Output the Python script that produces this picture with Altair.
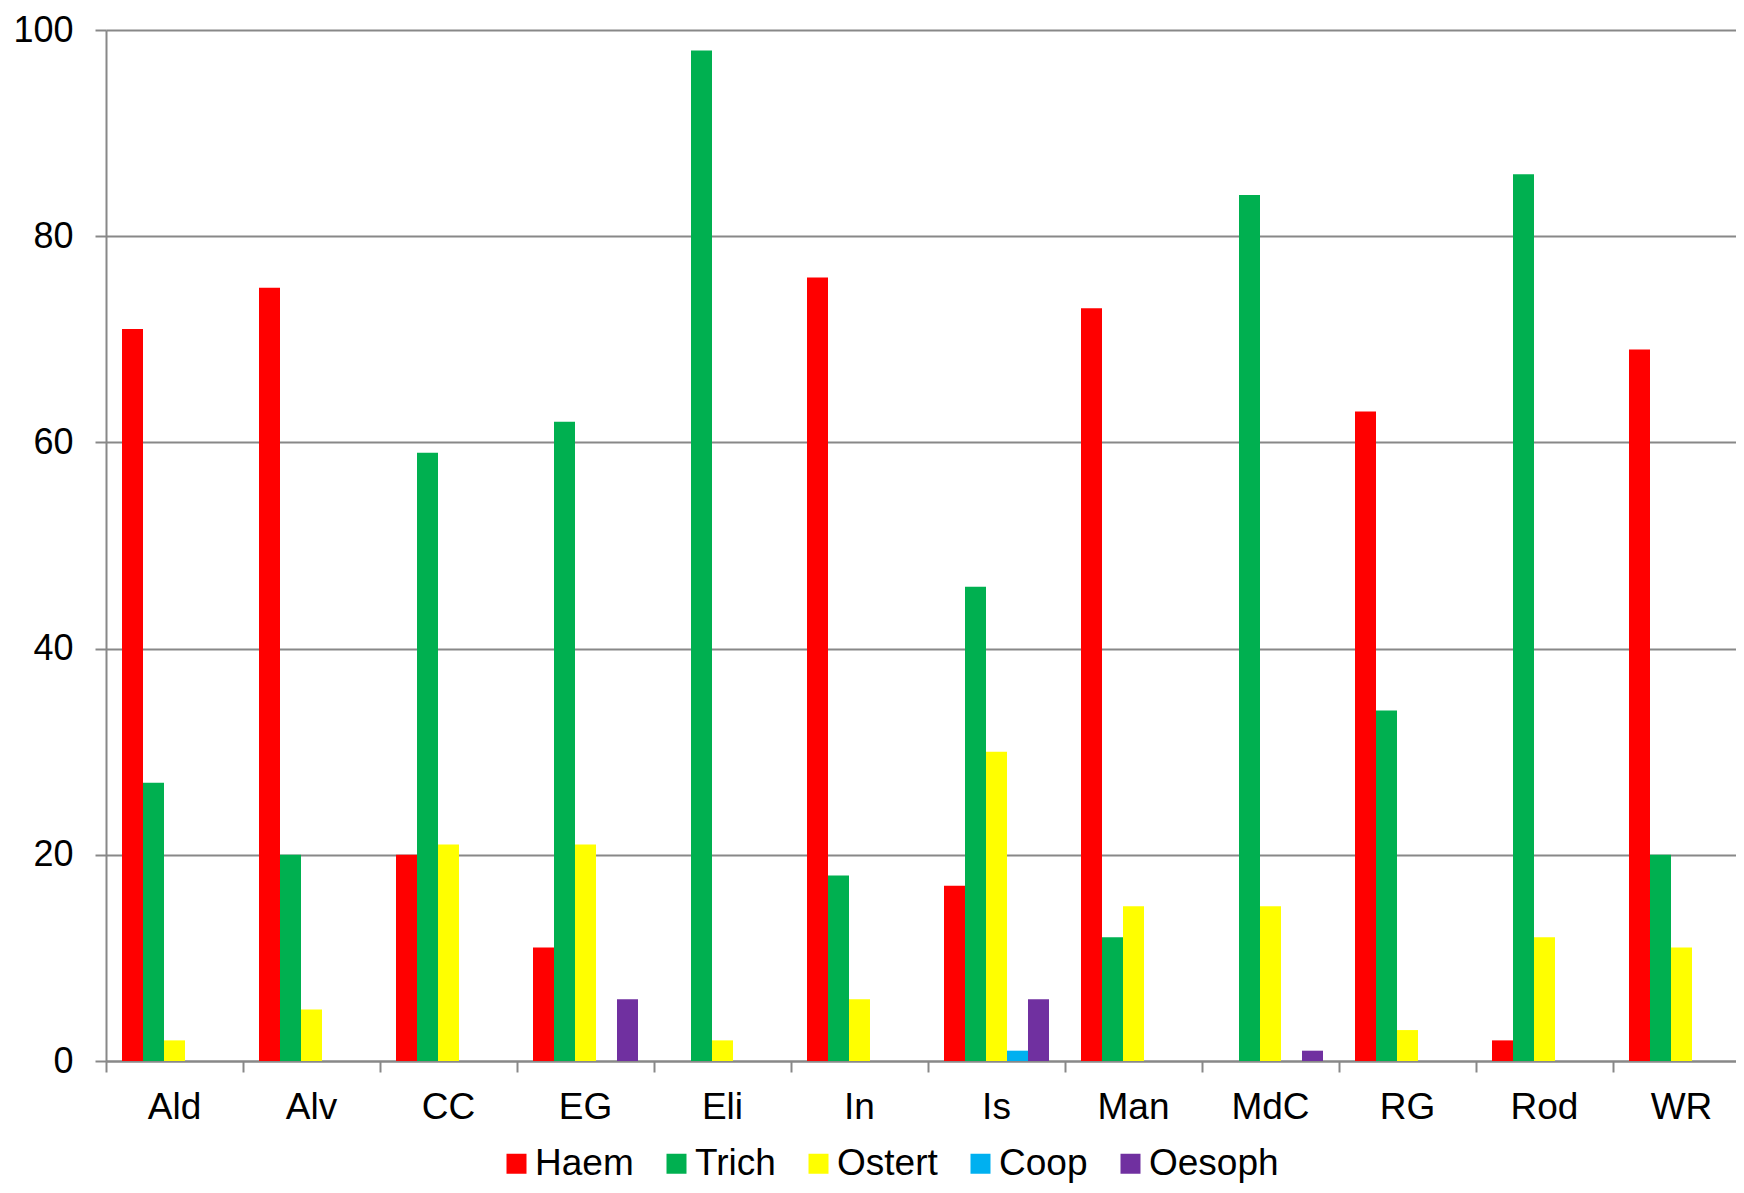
import altair as alt
import pandas as pd

sites = ["Ald", "Alv", "CC", "EG", "Eli", "In", "Is", "Man", "MdC", "RG", "Rod", "WR"]
series = ["Haem", "Trich", "Ostert", "Coop", "Oesoph"]
haem = [71, 75, 20, 11, 0, 76, 17, 73, 0, 63, 2, 69]
trich = [27, 20, 59, 62, 98, 18, 46, 12, 84, 34, 86, 20]
ostert = [2, 5, 21, 21, 2, 6, 30, 15, 15, 3, 12, 11]
coop = [0, 0, 0, 0, 0, 0, 1, 0, 0, 0, 0, 0]
oesoph = [0, 0, 0, 6, 0, 0, 6, 0, 1, 0, 0, 0]
colors = ["#FF0000", "#00B050", "#FFFF00", "#00B0F0", "#7030A0"]
y_ticks = [0, 20, 40, 60, 80, 100]

rows = []
for name, vals in zip(series, [haem, trich, ostert, coop, oesoph]):
    for s, v in zip(sites, vals):
        rows.append({"site": s, "series": name, "value": v})
df = pd.DataFrame(rows)

FONT = "Liberation Sans"
GRAY = "#888888"

chart = alt.Chart(df).mark_bar().encode(
    x=alt.X(
        "site:N", sort=sites, title=None,
        scale=alt.Scale(paddingInner=0, paddingOuter=0, range=[0, 1644]),
        axis=alt.Axis(labelAngle=0, bandPosition=0, tickSize=11, labelPadding=17,
                      labelFontSize=37, labelFont=FONT, labelColor="black",
                      domainColor=GRAY, domainWidth=2, tickColor=GRAY, tickWidth=2,
                      grid=False),
    ),
    xOffset=alt.XOffset("series:N", sort=series,
                        scale=alt.Scale(paddingInner=0, paddingOuter=0.762)),
    y=alt.Y(
        "value:Q", title=None,
        scale=alt.Scale(domain=[0, 100], nice=False),
        axis=alt.Axis(values=y_ticks, tickSize=11, labelPadding=22, labelFontSize=36,
                      labelFont=FONT, labelColor="black",
                      domainColor=GRAY, domainWidth=2, tickColor=GRAY, tickWidth=2,
                      grid=True, gridColor=GRAY, gridWidth=2),
    ),
    color=alt.Color(
        "series:N", sort=series,
        scale=alt.Scale(domain=series, range=colors),
        legend=alt.Legend(orient="none", legendX=392, legendY=1115, direction="horizontal",
                          title=None, symbolType="square", symbolSize=400,
                          symbolStrokeWidth=0, labelFontSize=37, labelFont=FONT,
                          labelColor="black", labelOffset=0, columnPadding=24, padding=0),
    ),
).properties(
    width=1630, height=1031,
    autosize=alt.AutoSizeParams(type="none"),
    padding={"left": 98, "top": 22, "right": 0, "bottom": 124},
).configure_view(stroke=None)

chart.save("out.html", embed_options={"renderer": "svg", "actions": False})
